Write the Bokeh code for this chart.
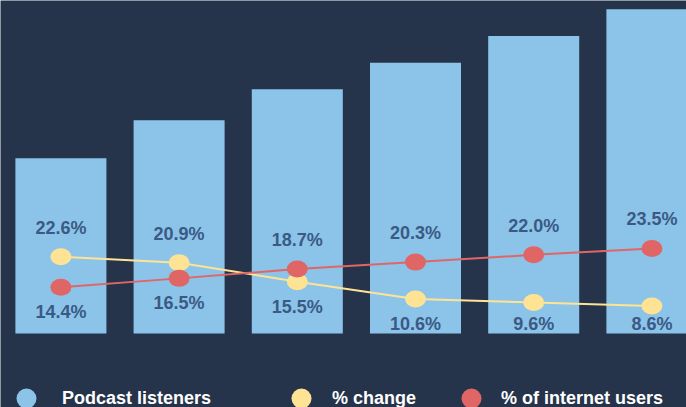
from bokeh.plotting import figure
from bokeh.models import Range1d, ColumnDataSource, Legend, LegendItem
from bokeh.core.properties import value
from bokeh.embed import file_html
from bokeh.resources import INLINE

# ---- data ----
positions = [0, 1, 2, 3, 4, 5]
podcast_listeners = [56.8, 69.1, 79.2, 87.8, 96.4, 105.1]
pct_change = [22.6, 20.9, 15.5, 10.6, 9.6, 8.6]
pct_internet_users = [14.4, 16.5, 18.7, 20.3, 22.0, 23.5]
legend_labels = ["Podcast listeners", "% change", "% of internet users"]

# ---- style ----
W, H = 686, 407
BG = "#25344B"
BAR = "#8BC4E8"
YEL = "#FFE394"
RED = "#E06666"
LBL = "#3A5A85"
FONT = "Liberation Sans"

p = figure(width=W, height=H, output_backend="svg", toolbar_location=None,
           x_range=Range1d(-0.511, 5.2927), y_range=Range1d(-23.987, 107.942),
           x_axis_location=None, y_axis_location=None, min_border=0)
p.extra_y_ranges = {"chg": Range1d(-20.216, 95.343), "usr": Range1d(-13.684, 81.454)}
p.background_fill_color = BG
p.border_fill_color = BG
p.outline_line_color = None
p.xgrid.visible = False
p.ygrid.visible = False

src = ColumnDataSource(dict(x=positions, listeners=podcast_listeners,
                            chg=pct_change, usr=pct_internet_users))

p.vbar(x="x", top="listeners", bottom=0, width=0.77, source=src,
       fill_color=BAR, line_color=None)

p.line(x="x", y="chg", source=src, line_color=YEL, line_width=2, y_range_name="chg")
p.line(x="x", y="usr", source=src, line_color=RED, line_width=2, y_range_name="usr")
p.ellipse(x="x", y="chg", source=src, width=21, height=17, width_units="screen",
          height_units="screen", fill_color=YEL, line_color=None, y_range_name="chg")
p.ellipse(x="x", y="usr", source=src, width=21, height=17, width_units="screen",
          height_units="screen", fill_color=RED, line_color=None, y_range_name="usr")

# labels: the higher point gets its label above, the lower one below
# (lower labels are kept inside the bar)
def to_px(v, rng):
    return H - (v - rng.start) / (rng.end - rng.start) * H

base_px = to_px(0, p.y_range)
ABOVE, BELOW, INSET = -29, 25, 9.5

rngs = {"chg": p.extra_y_ranges["chg"], "usr": p.extra_y_ranges["usr"]}
series = {"chg": pct_change, "usr": pct_internet_users}
for name in ["chg", "usr"]:
    other = "usr" if name == "chg" else "chg"
    xs, ys, ts, offs = [], [], [], []
    for i, x in enumerate(positions):
        v = series[name][i]
        py = to_px(v, rngs[name])
        py_other = to_px(series[other][i], rngs[other])
        if py < py_other:
            off = ABOVE
        else:
            off = min(BELOW, base_px - INSET - py)
        xs.append(x); ys.append(v); ts.append(f"{v:.1f}%"); offs.append(off)
    s = ColumnDataSource(dict(x=xs, y=ys, t=ts, off=offs))
    p.text(x="x", y="y", text="t", source=s, y_range_name=name, y_offset="off",
           text_align="center", text_baseline="middle",
           text_color=LBL, text_font=value(FONT), text_font_style="bold",
           text_font_size="18px")

# legend (one per item, with circle swatches)
nan = float("nan")
colors = [BAR, YEL, RED]
leg_x = [1, 276, 446]
standoff = [11, 6, 5]
for lab, col, lx, so in zip(legend_labels, colors, leg_x, standoff):
    r = p.scatter(x=[nan], y=[nan], marker="circle", fill_color=col, line_color=None)
    lg = Legend(items=[LegendItem(label=lab, renderers=[r])], location=(lx, -16),
                orientation="horizontal", padding=0, margin=0, spacing=0,
                glyph_width=50, glyph_height=50, label_height=50, label_standoff=so,
                border_line_color=None, background_fill_alpha=0,
                label_text_color="white", label_text_font=FONT,
                label_text_font_style="bold", label_text_font_size="18px")
    p.add_layout(lg, "center")

open("out.html", "w").write(file_html(p, INLINE))
